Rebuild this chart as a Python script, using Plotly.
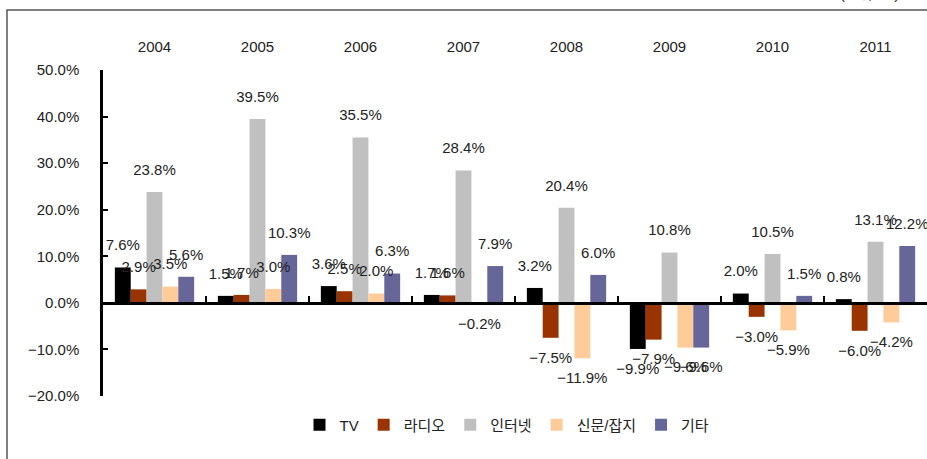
import plotly.graph_objects as go

years = ["2004", "2005", "2006", "2007", "2008", "2009", "2010", "2011"]
series_names = ["TV", "라디오", "인터넷", "신문/잡지", "기타"]
tv = [7.6, 1.5, 3.6, 1.7, 3.2, -9.9, 2.0, 0.8]
radio = [2.9, 1.7, 2.5, 1.6, -7.5, -7.9, -3.0, -6.0]
internet = [23.8, 39.5, 35.5, 28.4, 20.4, 10.8, 10.5, 13.1]
print_media = [3.5, 3.0, 2.0, -0.2, -11.9, -9.6, -5.9, -4.2]
other = [5.6, 10.3, 6.3, 7.9, 6.0, -9.6, 1.5, 12.2]
y_ticks = [-20, -10, 0, 10, 20, 30, 40, 50]

series_values = [tv, radio, internet, print_media, other]
colors = ["#000000", "#993300", "#C0C0C0", "#FFCC99", "#666699"]

FONT = "Liberation Sans, Arial, Noto Sans CJK KR, sans-serif"
BARGAP = 0.23

def fmt(v):
    return f"{v:.1f}%".replace("-", "\u2212")

xi = list(range(len(years)))
nser = len(series_names)
bw = (1 - BARGAP) / nser

fig = go.Figure()
for name, vals, col in zip(series_names, series_values, colors):
    fig.add_trace(go.Bar(
        x=xi, y=vals, name=name,
        marker=dict(color=col, line=dict(width=0)),
        cliponaxis=False, hoverinfo="skip",
    ))

# data labels, placed at each bar's centre (same group geometry as the bars)
for j, vals in enumerate(series_values):
    fig.add_trace(go.Scatter(
        x=[i + (j - (nser - 1) / 2) * bw for i in xi], y=vals,
        mode="markers+text",
        marker=dict(size=20, opacity=0),
        text=[fmt(v) for v in vals],
        textposition=["top center" if v >= 0 else "bottom center" for v in vals],
        textfont=dict(family=FONT, size=15, color="#222222"),
        showlegend=False, hoverinfo="skip", cliponaxis=False,
    ))

# dummy trace to activate the zero-line axis
fig.add_trace(go.Scatter(x=[], y=[], xaxis="x2", yaxis="y", showlegend=False, hoverinfo="skip"))

W, H = 927, 459
ml, mr, mt, mb = 103, 0, 70, 63
pw, ph = W - ml - mr, H - mt - mb
ymin, ymax = -20, 50

def px2paper_x(px):
    return (px - ml) / pw

def px2paper_y(py):
    return (H - mb - py) / ph

fig.update_layout(
    width=W, height=H,
    margin=dict(l=ml, r=mr, t=mt, b=mb, pad=0, autoexpand=False),
    paper_bgcolor="white", plot_bgcolor="white",
    font=dict(family=FONT, size=15, color="#222222"),
    barmode="group", bargap=BARGAP, bargroupgap=0,
    xaxis=dict(
        side="top", range=[-0.5, len(years) - 0.5],
        tickvals=xi, ticktext=years,
        showline=False, showgrid=False, zeroline=False,
        ticks="", ticklabelstandoff=14, automargin=False,
        tickfont=dict(family=FONT, size=15, color="#222222"),
    ),
    xaxis2=dict(
        overlaying="x", anchor="free", position=(0 - ymin) / (ymax - ymin),
        side="bottom", range=[-0.5, len(years) - 0.5],
        tickvals=[i + 0.5 for i in range(len(years) - 1)],
        ticks="inside", ticklen=6, tickwidth=2, tickcolor="black",
        showticklabels=False, showline=True, linewidth=3, linecolor="black",
        showgrid=False, zeroline=False, automargin=False,
    ),
    yaxis=dict(
        range=[ymin, ymax], tickvals=y_ticks,
        ticktext=[fmt(float(t)) for t in y_ticks],
        showline=True, linewidth=2.5, linecolor="black",
        ticks="inside", ticklen=5, tickwidth=2, tickcolor="black",
        showgrid=False, zeroline=False, ticklabelstandoff=18, automargin=False,
        tickfont=dict(family=FONT, size=15, color="#222222"),
    ),
    legend=dict(
        orientation="h", x=px2paper_x(507), xanchor="center",
        y=px2paper_y(425), yanchor="middle",
        font=dict(family=FONT, size=15, color="#222222"),
        itemwidth=30, bgcolor="rgba(0,0,0,0)",
    ),
    shapes=[dict(
        type="rect", xref="paper", yref="paper",
        x0=px2paper_x(7), x1=px2paper_x(W + 20),
        y0=px2paper_y(H + 20), y1=px2paper_y(10),
        line=dict(color="#555555", width=1.5), fillcolor="rgba(0,0,0,0)",
        layer="below",
    )],
    annotations=[dict(
        text="(단위: %)", xref="paper", yref="paper",
        x=px2paper_x(838), xanchor="left",
        y=px2paper_y(4), yanchor="bottom",
        showarrow=False, font=dict(family=FONT, size=15, color="#222222"),
    )],
)

fig.write_html(
    "out.html",
    config={"displayModeBar": False},
    post_script="document.body.style.margin='0';document.body.style.padding='0';document.body.style.overflow='hidden';",
)
